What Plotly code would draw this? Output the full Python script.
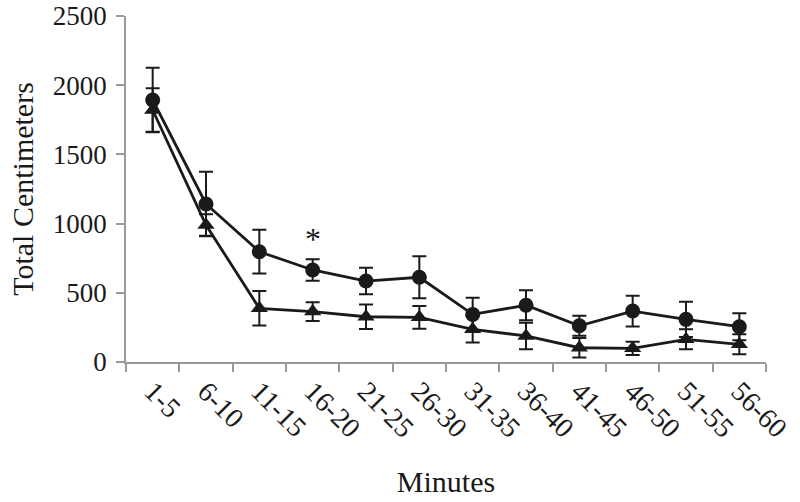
import plotly.graph_objects as go

categories = ["1-5", "6-10", "11-15", "16-20", "21-25", "26-30", "31-35", "36-40", "41-45", "46-50", "51-55", "56-60"]
circle_vals = [1893, 1142, 797, 665, 585, 612, 344, 410, 262, 368, 308, 255]
circle_err = [233, 233, 158, 78, 96, 152, 121, 108, 73, 111, 128, 97]
triangle_vals = [1821, 990, 388, 364, 327, 323, 236, 188, 103, 99, 164, 128]
triangle_err = [157, 78, 125, 68, 88, 82, 96, 96, 70, 48, 72, 72]
star_category = "16-20"
star_y = 890

font_family = "Liberation Serif, Times New Roman, serif"

fig = go.Figure()
fig.add_trace(go.Scatter(
    x=categories, y=triangle_vals, mode="lines+markers",
    marker=dict(symbol="triangle-up", size=15, color="#1a1a1a"),
    line=dict(color="#1a1a1a", width=2.8),
    error_y=dict(type="data", array=triangle_err, visible=True, color="#1a1a1a", thickness=2, width=7),
    showlegend=False,
))
fig.add_trace(go.Scatter(
    x=categories, y=circle_vals, mode="lines+markers",
    marker=dict(symbol="circle", size=15, color="#1a1a1a"),
    line=dict(color="#1a1a1a", width=2.8),
    error_y=dict(type="data", array=circle_err, visible=True, color="#1a1a1a", thickness=2, width=7),
    showlegend=False,
))
fig.add_annotation(x=star_category, y=star_y, text="*", showarrow=False,
                   font=dict(family=font_family, size=32, color="#1a1a1a"))

fig.update_layout(
    width=800, height=502,
    margin=dict(l=126, r=34, t=16, b=140),
    paper_bgcolor="white", plot_bgcolor="white",
    font=dict(family=font_family, size=27, color="#1a1a1a"),
)
fig.update_xaxes(
    type="category", range=[-0.5, 11.5], tickangle=45, automargin=False,
    showline=True, linecolor="#999999", linewidth=1.5,
    ticks="outside", tickson="boundaries", ticklen=8, tickcolor="#999999", tickwidth=1.5,
    showgrid=False, zeroline=False, ticklabeloverflow="allow",
    title=dict(text="Minutes", font=dict(size=30), standoff=28),
    tickfont=dict(size=28),
)
fig.update_yaxes(
    range=[0, 2500], dtick=500, automargin=False,
    showline=True, linecolor="#999999", linewidth=1.5,
    ticks="outside", ticklen=8, tickcolor="#999999", tickwidth=1.5,
    showgrid=False, zeroline=False, ticklabeloverflow="allow", ticklabelstandoff=4,
    title=dict(text="Total Centimeters", font=dict(size=30), standoff=10),
    tickfont=dict(size=27),
)

# remove the browser's default 8px body margin so the figure fills the window
fig.write_html("out.html", config={"displayModeBar": False},
               post_script="document.body.style.margin='0';")
